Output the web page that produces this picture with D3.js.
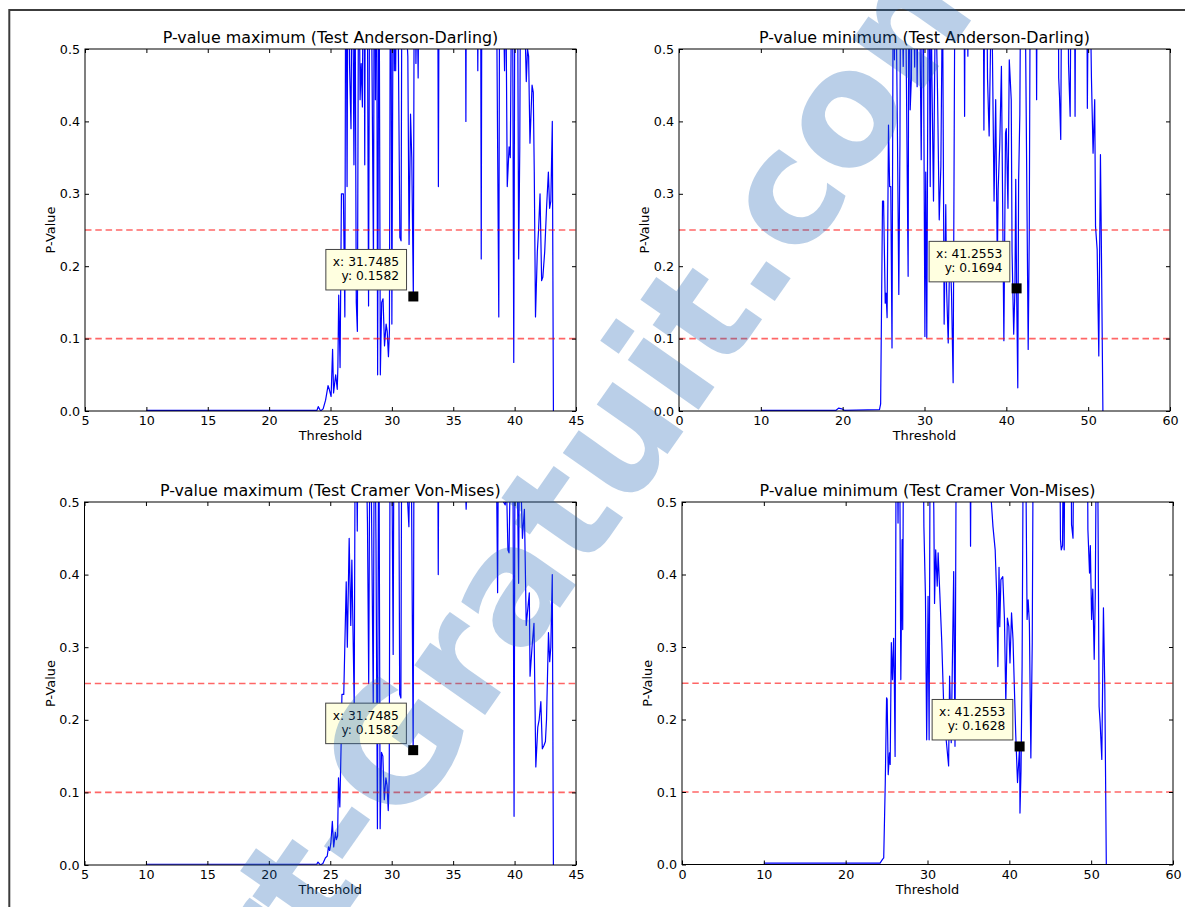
<!DOCTYPE html>
<html><head><meta charset="utf-8">
<script src="https://cdn.jsdelivr.net/npm/d3@7"></script>
<style>
html,body{margin:0;padding:0;background:#fff;}
svg{display:block;}
</style></head><body>
<svg id="chart" width="1185" height="907"></svg>
<script>
// ---------- data ----------
const xTicksMax = [5, 10, 15, 20, 25, 30, 35, 40, 45];
const xTicksMin = [0, 10, 20, 30, 40, 50, 60];
const yTicks = [0.0, 0.1, 0.2, 0.3, 0.4, 0.5];
const refLevels = [0.25, 0.1];

const adMaxThreshold = [10,23.9,24.0,24.2,24.4,24.6,24.8,24.9,25.05,25.17,25.25,25.35,25.42,25.55,25.6,25.67,25.78,25.89,26.05,26.17,26.25,26.35,26.45,26.55,26.67,26.78,26.91,27.0,27.1,27.19,27.3,27.41,27.5,27.6,27.7,27.79,27.88,28.0,28.1,28.2,28.35,28.5,28.58,28.66,28.75,28.84,28.95,29.06,29.17,29.28,29.4,29.53,29.62,29.72,29.8,29.9,30.0,30.12,30.2,30.25,30.31,30.42,30.53,30.65,30.75,30.84,31.0,31.21,31.3,31.4,31.52,31.62,31.7485,31.85,31.96,32.05,32.14,32.25,33.7,33.79,33.88,35.95,36.03,36.1,36.95,37.0,37.08,37.22,37.28,37.34,38.5,38.56,38.71,38.8,39.1,39.18,39.28,39.4,39.55,39.65,39.75,39.85,39.93,40.05,40.24,40.33,40.42,40.5,40.86,40.95,41.05,41.14,41.25,41.42,41.52,41.6,41.7,41.85,41.95,42.07,42.2,42.3,42.45,42.6,42.75,42.85,42.95,43.07,43.16];
const adMaxPValue = [0.001,0.001,0.006,0.0,0.003,0.015,0.035,0.03,0.02,0.085,0.025,0.04,0.05,0.03,0.06,0.16,0.06,0.30,0.30,0.13,0.75,0.31,0.8,0.48,0.39,0.7,0.34,0.6,0.15,0.11,0.7,0.43,0.48,0.42,0.8,0.34,0.9,0.6,0.145,0.7,0.55,0.2,0.8,0.43,0.7,0.05,0.7,0.05,0.15,0.155,0.09,0.12,0.11,0.075,0.11,0.8,0.12,0.7,0.47,0.6,0.47,0.7,0.5,0.24,0.235,0.75,0.5,0.52,0.49,0.23,0.41,0.35,0.1582,0.8,0.48,0.6,0.46,0.7,0.8,0.31,0.8,0.8,0.40,0.8,0.6,0.47,0.7,0.7,0.21,0.7,0.6,0.5,0.13,0.8,0.55,0.47,0.6,0.31,0.365,0.35,0.6,0.5,0.067,0.8,0.6,0.21,0.365,0.7,0.52,0.455,0.5,0.49,0.37,0.45,0.44,0.33,0.13,0.22,0.25,0.30,0.18,0.185,0.22,0.28,0.33,0.28,0.29,0.40,0.0];

const adMinThreshold = [10,19.2,19.5,19.9,20.2,24.5,24.64,24.87,25.0,25.2,25.3,25.43,25.6,25.74,25.88,26.03,26.2,26.33,26.42,26.7,26.86,27.0,27.1,27.4,27.6,28.0,28.1,28.25,28.4,28.5,28.8,28.95,29.1,29.3,29.6,29.8,30.05,30.15,30.28,30.5,30.7,30.8,30.9,31.1,31.35,31.6,31.8,32.0,32.2,32.4,32.6,32.7,32.9,33.1,33.3,33.5,33.75,34.8,34.9,35.0,35.2,35.3,35.4,37.15,37.26,37.4,37.6,37.7,37.9,38.2,38.5,38.7,38.9,39.0,39.2,39.4,39.7,39.9,40.0,40.2,40.36,40.6,40.7,40.9,41.05,41.15,41.2553,41.4,41.5,41.65,41.8,42.2,42.4,42.67,42.8,42.95,43.6,43.7,43.8,46.3,46.4,46.5,46.65,46.8,47.5,47.6,47.8,47.95,48.3,48.4,48.5,49.8,49.9,50.1,50.4,50.6,50.8,50.9,51.1,51.3,51.5,51.6,51.8];
const adMinPValue = [0.001,0.001,0.004,0.003,0.001,0.002,0.01,0.29,0.29,0.149,0.163,0.129,0.395,0.31,0.31,0.087,0.7,0.485,0.7,0.372,0.161,0.37,0.7,0.476,0.7,0.186,0.7,0.416,0.46,0.7,0.475,0.7,0.448,0.7,0.347,0.7,0.103,0.33,0.101,0.7,0.31,0.6,0.466,0.29,0.6,0.434,0.264,0.338,0.6,0.12,0.285,0.168,0.094,0.234,0.163,0.039,0.7,0.7,0.407,0.7,0.6,0.49,0.7,0.7,0.388,0.7,0.6,0.46,0.38,0.6,0.29,0.43,0.2,0.306,0.37,0.476,0.097,0.384,0.39,0.28,0.485,0.43,0.22,0.106,0.168,0.32,0.1694,0.032,0.317,0.41,0.7,0.7,0.45,0.085,0.24,0.7,0.7,0.43,0.7,0.7,0.46,0.434,0.375,0.7,0.7,0.48,0.407,0.7,0.7,0.407,0.7,0.7,0.418,0.7,0.46,0.356,0.43,0.255,0.223,0.076,0.354,0.246,0.0];

const cvmMaxThreshold = [10,23.9,24.0,24.2,24.4,24.61,24.75,24.86,24.95,25.05,25.17,25.28,25.42,25.5,25.6,25.67,25.78,25.89,25.95,26.1,26.3,26.39,26.54,26.67,26.76,26.95,27.05,27.2,27.3,27.9,28.03,28.13,28.25,28.5,28.6,28.72,28.84,28.95,29.06,29.17,29.28,29.4,29.53,29.62,29.72,29.8,29.9,30.0,30.12,30.2,30.55,30.65,30.75,30.84,31.3,31.4,31.5,31.62,31.7485,31.85,33.7,33.79,33.88,36.0,36.06,36.12,38.5,38.62,38.72,39.1,39.24,39.35,39.46,39.55,39.7,39.88,39.96,40.05,40.25,40.33,40.4,40.64,40.8,40.95,41.2,41.26,41.42,41.58,41.73,41.89,42.0,42.14,42.26,42.4,42.51,42.6,42.76,42.86,42.95,43.07,43.16];
const cvmMaxPValue = [0.001,0.001,0.004,0.0,0.002,0.01,0.012,0.025,0.02,0.03,0.06,0.025,0.045,0.035,0.04,0.12,0.08,0.17,0.235,0.235,0.39,0.30,0.45,0.33,0.42,0.22,0.7,0.46,0.7,0.6,0.47,0.25,0.7,0.22,0.7,0.45,0.05,0.7,0.05,0.155,0.15,0.09,0.12,0.11,0.075,0.12,0.8,0.6,0.29,0.7,0.7,0.235,0.23,0.75,0.5,0.466,0.6,0.5,0.1582,0.8,0.8,0.40,0.8,0.52,0.49,0.52,0.6,0.375,0.7,0.5,0.496,0.52,0.434,0.43,0.6,0.5,0.067,0.7,0.5,0.388,0.6,0.45,0.49,0.33,0.375,0.26,0.3,0.333,0.135,0.19,0.2,0.225,0.16,0.165,0.17,0.2,0.32,0.28,0.3,0.40,0.0];

const cvmMinThreshold = [10,24.2,24.5,24.65,24.84,25.0,25.07,25.2,25.35,25.44,25.58,25.72,25.86,25.95,26.04,26.2,26.4,26.55,26.74,26.9,26.97,27.1,29.4,29.56,29.75,29.9,30.07,30.2,30.35,30.6,30.77,30.86,31.0,31.19,31.3,31.5,31.74,31.97,32.3,32.58,32.7,32.9,33.2,33.36,33.55,35.15,35.26,35.38,37.6,37.8,38.0,38.27,38.46,38.6,38.74,38.83,38.97,39.2,39.4,39.57,39.76,39.94,40.08,40.27,40.45,40.6,40.78,41.0,41.2553,41.3,41.43,41.56,41.75,41.98,42.17,42.3,42.45,42.63,42.8,42.96,46.1,46.25,46.35,46.5,46.6,46.7,46.85,47.5,47.6,47.78,47.95,49.5,49.6,49.8,49.9,50.05,50.2,50.37,50.5,50.7,50.83,50.97,51.1,51.3,51.5,51.67,51.85];
const cvmMinPValue = [0.002,0.002,0.007,0.009,0.113,0.23,0.228,0.124,0.154,0.138,0.306,0.255,0.312,0.25,0.149,0.7,0.471,0.7,0.255,0.448,0.324,0.7,0.7,0.466,0.37,0.172,0.37,0.172,0.7,0.6,0.49,0.36,0.434,0.384,0.43,0.375,0.308,0.223,0.17,0.136,0.26,0.168,0.404,0.163,0.7,0.7,0.439,0.7,0.6,0.5,0.466,0.434,0.37,0.273,0.41,0.328,0.393,0.397,0.34,0.223,0.34,0.328,0.278,0.347,0.31,0.25,0.18,0.113,0.1628,0.071,0.13,0.273,0.7,0.6,0.338,0.365,0.333,0.147,0.306,0.7,0.7,0.448,0.434,0.44,0.6,0.434,0.7,0.7,0.469,0.45,0.7,0.7,0.462,0.402,0.44,0.338,0.38,0.283,0.37,0.7,0.5,0.218,0.195,0.145,0.354,0.241,0.0];

const pickMax = [31.7485, 0.1582];
const pickAdMin = [41.2553, 0.1694];
const pickCvmMin = [41.2553, 0.1628];

const titles = [
  "P-value maximum (Test Anderson-Darling)",
  "P-value minimum (Test Anderson-Darling)",
  "P-value maximum (Test Cramer Von-Mises)",
  "P-value minimum (Test Cramer Von-Mises)"
];

// ---------- layout ----------
const panels = [
  {title: titles[0], xs: adMaxThreshold, ys: adMaxPValue, dom: [5, 45], ticks: xTicksMax, pick: pickMax, box: {l: 85, r: 576, t: 49, b: 411}},
  {title: titles[1], xs: adMinThreshold, ys: adMinPValue, dom: [0, 60], ticks: xTicksMin, pick: pickAdMin, box: {l: 679, r: 1170, t: 49, b: 411}},
  {title: titles[2], xs: cvmMaxThreshold, ys: cvmMaxPValue, dom: [5, 45], ticks: xTicksMax, pick: pickMax, box: {l: 84.5, r: 576, t: 502, b: 865}},
  {title: titles[3], xs: cvmMinThreshold, ys: cvmMinPValue, dom: [0, 60], ticks: xTicksMin, pick: pickCvmMin, box: {l: 682, r: 1173, t: 502, b: 864.5}}
];

const FONT = "'DejaVu Sans', sans-serif";
const svg = d3.select("#chart");
svg.append("rect").attr("width", 1185).attr("height", 907).attr("fill", "#fff");

// outer frame of the screenshot
svg.append("path").attr("d", "M9.3,907V10H1185").attr("fill", "none")
  .attr("stroke", "#3c3c3c").attr("stroke-width", 2);

panels.forEach((p, i) => {
  const b = p.box;
  const x = d3.scaleLinear().domain(p.dom).range([b.l, b.r]);
  const y = d3.scaleLinear().domain([0, 0.5]).range([b.b, b.t]);
  const g = svg.append("g");

  const clipId = "clip" + i;
  svg.append("clipPath").attr("id", clipId).append("rect")
    .attr("x", b.l).attr("y", b.t).attr("width", b.r - b.l).attr("height", b.b - b.t);

  const plot = g.append("g").attr("clip-path", `url(#${clipId})`);

  // data line
  const data = d3.zip(p.xs, p.ys);
  plot.append("path").datum(data)
    .attr("fill", "none").attr("stroke", "#0000ff").attr("stroke-width", 1.2)
    .attr("stroke-linejoin", "round")
    .attr("d", d3.line().x(d => x(d[0])).y(d => y(d[1])));

  // reference lines
  plot.selectAll("line.ref").data(refLevels).join("line").attr("class", "ref")
    .attr("x1", b.l).attr("x2", b.r).attr("y1", d => y(d)).attr("y2", d => y(d))
    .attr("stroke", "#ff0000").attr("stroke-opacity", 0.6).attr("stroke-width", 1.7)
    .attr("stroke-dasharray", "6.5,3.8");

  // axes (ticks inward, all four sides)
  const styleAxis = sel => {
    sel.select(".domain").remove();
    sel.selectAll(".tick line").attr("stroke", "#000");
    sel.selectAll(".tick text").attr("fill", "#000");
    sel.attr("font-family", FONT).attr("font-size", 12.7);
  };
  g.append("g").attr("transform", `translate(0,${b.b})`)
    .call(d3.axisBottom(x).tickValues(p.ticks).tickFormat(d3.format("d")).tickSizeInner(-4).tickSizeOuter(0).tickPadding(5))
    .call(styleAxis);
  g.append("g").attr("transform", `translate(0,${b.t})`)
    .call(d3.axisTop(x).tickValues(p.ticks).tickFormat("").tickSizeInner(-4).tickSizeOuter(0))
    .call(styleAxis);
  g.append("g").attr("transform", `translate(${b.l},0)`)
    .call(d3.axisLeft(y).tickValues(yTicks).tickFormat(d3.format(".1f")).tickSizeInner(-4).tickSizeOuter(0).tickPadding(5))
    .call(styleAxis);
  g.append("g").attr("transform", `translate(${b.r},0)`)
    .call(d3.axisRight(y).tickValues(yTicks).tickFormat("").tickSizeInner(-4).tickSizeOuter(0))
    .call(styleAxis);

  // axes frame
  g.append("rect").attr("x", b.l).attr("y", b.t).attr("width", b.r - b.l).attr("height", b.b - b.t)
    .attr("fill", "none").attr("stroke", "#000").attr("stroke-width", 1);

  // title and labels
  g.append("text").attr("x", (b.l + b.r) / 2).attr("y", b.t - 6.5)
    .attr("text-anchor", "middle").attr("font-family", FONT).attr("font-size", 15.9)
    .attr("fill", "#000").text(p.title);
  g.append("text").attr("x", (b.l + b.r) / 2).attr("y", b.b + 29)
    .attr("text-anchor", "middle").attr("font-family", FONT).attr("font-size", 12.9)
    .attr("fill", "#000").text("Threshold");
  g.append("text").attr("transform", `translate(${b.l - 30},${(b.t + b.b) / 2}) rotate(-90)`)
    .attr("text-anchor", "middle").attr("font-family", FONT).attr("font-size", 12.9)
    .attr("fill", "#000").text("P-Value");

  // picked point marker + annotation
  const mx = x(p.pick[0]), my = y(p.pick[1]);
  g.append("rect").attr("x", mx - 5).attr("y", my - 5).attr("width", 10).attr("height", 10).attr("fill", "#000");
  const ann = g.append("g");
  const boxR = mx - 6.8, boxB = my - 6.5;
  const bg = ann.append("rect");
  const t1 = ann.append("text").attr("text-anchor", "end").attr("font-family", FONT).attr("font-size", 12.3)
    .attr("fill", "#000").attr("x", boxR - 7.5).attr("y", boxB - 23.5).text("x: " + p.pick[0].toFixed(4));
  const t2 = ann.append("text").attr("text-anchor", "end").attr("font-family", FONT).attr("font-size", 12.3)
    .attr("fill", "#000").attr("x", boxR - 7.5).attr("y", boxB - 10).text("y: " + p.pick[1].toFixed(4));
  const w = Math.max(t1.node().getComputedTextLength(), t2.node().getComputedTextLength()) + 14.5;
  bg.attr("x", boxR - w).attr("y", boxB - 40.5).attr("width", w).attr("height", 40.5)
    .attr("fill", "#ffffe0").attr("stroke", "#444").attr("stroke-width", 1);
});

// watermark of the source image
const wm = svg.append("g")
  .attr("transform", "translate(403,832) rotate(-55)")
  .attr("opacity", 0.3).attr("fill", "#1e64b4")
  .attr("font-family", "'DejaVu Sans', sans-serif")
  .attr("font-weight", "bold").attr("font-size", 158);
wm.append("text").attr("text-anchor", "end").text("Rapport-");
wm.append("text").attr("text-anchor", "start").text("Gratuit.com");
</script>
</body></html>
